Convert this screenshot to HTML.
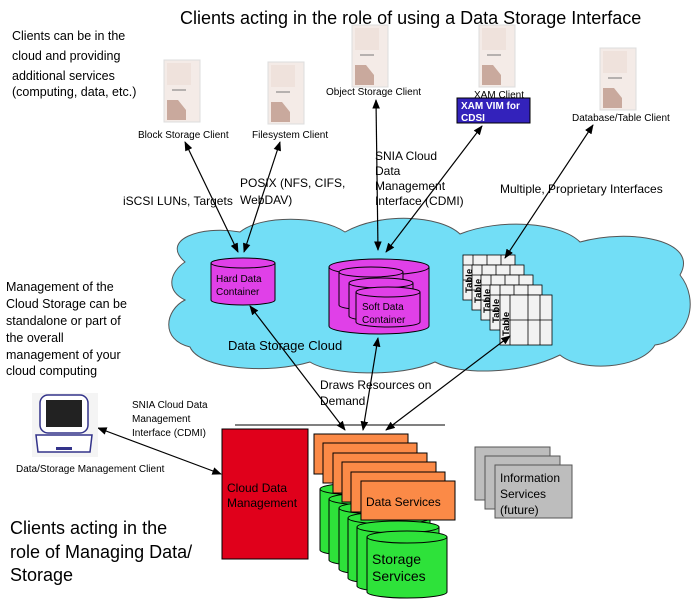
<!DOCTYPE html>
<html><head><meta charset="utf-8"><style>
body{margin:0;background:#fff}
svg{display:block;font-family:"Liberation Sans",Arial,sans-serif}
</style></head><body>
<svg width="700" height="609" viewBox="0 0 700 609" xmlns="http://www.w3.org/2000/svg">
<defs>
<marker id="a" viewBox="0 0 10 10" refX="9" refY="5" markerWidth="8" markerHeight="8" orient="auto-start-reverse"><path d="M0,1 L10,5 L0,9 Z" fill="#000"/></marker>
<g id="srv">
<rect x="0" y="0" width="36" height="62" fill="#f4ebe7" stroke="#ddd" stroke-width="1"/>
<rect x="3" y="3" width="24" height="22" fill="#efe2dc"/>
<line x1="8" y1="30" x2="22" y2="30" stroke="#777" stroke-width="1"/>
<path d="M3,40 L14,40 L22,50 L22,60 L3,60 Z" fill="#c9a99d"/>
</g>
</defs>

<text x="180" y="24" font-size="18">Clients acting in the role of using a Data Storage Interface</text>
<g font-size="12.5"><text x="12" y="40">Clients can be in the</text><text x="12" y="60">cloud and providing</text><text x="12" y="80">additional services</text><text x="12" y="96">(computing, data, etc.)</text></g>

<use href="#srv" x="164" y="60"/><use href="#srv" x="268" y="62"/><use href="#srv" x="352" y="25"/><use href="#srv" x="479" y="25"/><use href="#srv" x="600" y="48"/>
<g font-size="10">
<text x="138" y="138">Block Storage Client</text>
<text x="252" y="138">Filesystem Client</text>
<text x="326" y="95">Object Storage Client</text>
<text x="474" y="98">XAM Client</text>
<text x="572" y="121">Database/Table Client</text>
</g>
<rect x="457" y="98" width="73" height="25" fill="#3322bb" stroke="#000"/>
<g font-size="10" fill="#fff" font-weight="bold"><text x="461" y="109">XAM VIM for</text><text x="461" y="121">CDSI</text></g>

<path d="M185,262 C160,240 200,225 240,232 C260,215 320,215 345,232 C380,212 440,215 460,234 C500,218 560,222 580,242 C630,228 700,240 680,275 C700,300 690,340 655,345 C640,370 580,372 560,355 C520,375 460,375 435,362 C400,378 330,375 310,362 C270,374 200,370 190,347 C160,340 165,310 185,300 C165,290 170,272 185,262 Z" fill="#72def6" stroke="#555" stroke-width="1"/>

<g font-size="12">
<text x="123" y="205">iSCSI LUNs, Targets</text>
<text x="240" y="187">POSIX (NFS, CIFS,</text><text x="240" y="204">WebDAV)</text>
<text x="375" y="160">SNIA Cloud</text><text x="375" y="175">Data</text><text x="375" y="190">Management</text><text x="375" y="205">Interface (CDMI)</text>
<text x="500" y="193">Multiple, Proprietary Interfaces</text>
<text x="228" y="350" font-size="13">Data Storage Cloud</text>
<text x="320" y="389">Draws Resources on</text><text x="320" y="405">Demand</text>
</g>

<path d="M211,263 V300 A32,5 0 0 0 275,300 V263" fill="#e040e8" stroke="#000"/>
<ellipse cx="243" cy="263" rx="32" ry="5" fill="#e040e8" stroke="#000"/>
<text x="216" y="282" font-size="10">Hard Data</text><text x="216" y="295" font-size="10">Container</text>
<path d="M329,267 V326 A50,8 0 0 0 429,326 V267" fill="#e040e8" stroke="#000"/>
<ellipse cx="379" cy="267" rx="50" ry="8" fill="#e040e8" stroke="#000"/>
<g fill="#e040e8" stroke="#000">
<path d="M339,272 V305 A32,5 0 0 0 403,305 V272"/><ellipse cx="371" cy="272" rx="32" ry="5"/>
<path d="M349,283 V316 A32,5 0 0 0 413,316 V283"/><ellipse cx="381" cy="283" rx="32" ry="5"/>
<path d="M356,292 V322 A32,5 0 0 0 420,322 V292"/><ellipse cx="388" cy="292" rx="32" ry="5"/>
</g>
<text x="362" y="310" font-size="10">Soft Data</text><text x="362" y="323" font-size="10">Container</text>
<g stroke="#000" fill="#f2f2f2" stroke-width="0.8">
<g transform="translate(463,255)"><rect width="52" height="45"/><path d="M10,0V45M24,0V45M38,0V45M0,10H52M0,25H52"/></g>
<g transform="translate(472,265)"><rect width="52" height="45"/><path d="M10,0V45M24,0V45M38,0V45M0,10H52M0,25H52"/></g>
<g transform="translate(481,275)"><rect width="52" height="45"/><path d="M10,0V45M24,0V45M38,0V45M0,10H52M0,25H52"/></g>
<g transform="translate(490,285)"><rect width="52" height="45"/><path d="M10,0V45M24,0V45M38,0V45M0,10H52M0,25H52"/></g>
<g transform="translate(500,295)"><rect width="52" height="50"/><path d="M10,0V50M28,0V50M40,0V50M0,25H52"/></g>
</g>
<g font-size="9.5" font-weight="bold" fill="#000">
<text transform="translate(472,293) rotate(-90)">Table</text>
<text transform="translate(481,303) rotate(-90)">Table</text>
<text transform="translate(490,313) rotate(-90)">Table</text>
<text transform="translate(499,323) rotate(-90)">Table</text>
<text transform="translate(509,336) rotate(-90)">Table</text>
</g>

<g stroke="#000" stroke-width="1.2" fill="none" marker-start="url(#a)" marker-end="url(#a)">
<line x1="185" y1="142" x2="238" y2="252"/>
<line x1="280" y1="142" x2="244" y2="252"/>
<line x1="376" y1="100" x2="378" y2="250"/>
<line x1="482" y1="126" x2="386" y2="252"/>
<line x1="593" y1="125" x2="505" y2="258"/>
<line x1="250" y1="306" x2="345" y2="430"/>
<line x1="378" y1="338" x2="363" y2="430"/>
<line x1="510" y1="336" x2="386" y2="430"/>
<line x1="98" y1="428" x2="221" y2="474"/>
</g>
<line x1="235" y1="425" x2="445" y2="425" stroke="#000"/>

<g font-size="12.5">
<text x="6" y="291">Management of the</text><text x="6" y="308">Cloud Storage can be</text><text x="6" y="325">standalone or part of</text><text x="6" y="342">the overall</text><text x="6" y="359">management of your</text><text x="6" y="375">cloud computing</text>
</g>
<rect x="32" y="393" width="66" height="64" fill="#f4f4f4"/>
<rect x="40" y="395" width="48" height="38" rx="8" fill="#fff" stroke="#33338a" stroke-width="1.5"/>
<rect x="46" y="400" width="36" height="27" fill="#222"/>
<path d="M36,435 H92 L90,452 H38 Z" fill="#fff" stroke="#33338a" stroke-width="1.5"/>
<rect x="56" y="447" width="16" height="3" fill="#33338a"/>
<text x="16" y="472" font-size="10">Data/Storage Management Client</text>
<g font-size="10"><text x="132" y="408">SNIA Cloud Data</text><text x="132" y="422">Management</text><text x="132" y="436">Interface (CDMI)</text></g>

<rect x="222" y="429" width="86" height="130" fill="#e0001b" stroke="#000"/>
<text x="227" y="492" font-size="12">Cloud Data</text><text x="227" y="507" font-size="12">Management</text>

<g fill="#2ee23a" stroke="#000">
<path d="M320,489 V550 A41,6 0 0 0 402,550 V489"/><ellipse cx="361" cy="489" rx="41" ry="6"/>
<path d="M329,499 V560 A41,6 0 0 0 411,560 V499"/><ellipse cx="370" cy="499" rx="41" ry="6"/>
<path d="M339,508 V569 A41,6 0 0 0 421,569 V508"/><ellipse cx="380" cy="508" rx="41" ry="6"/>
<path d="M348,518 V578 A41,6 0 0 0 430,578 V518"/><ellipse cx="389" cy="518" rx="41" ry="6"/>
<path d="M357,527 V586 A41,6 0 0 0 439,586 V527"/><ellipse cx="398" cy="527" rx="41" ry="6"/>
<path d="M367,537 V592 A40,6 0 0 0 447,592 V537"/><ellipse cx="407" cy="537" rx="40" ry="6"/>
</g>
<text x="372" y="564" font-size="14">Storage</text><text x="372" y="581" font-size="14">Services</text>
<g fill="#fb8a47" stroke="#000">
<rect x="314" y="434" width="94" height="40"/>
<rect x="323" y="443" width="94" height="40"/>
<rect x="333" y="453" width="94" height="40"/>
<rect x="342" y="462" width="94" height="40"/>
<rect x="351" y="472" width="94" height="40"/>
<rect x="361" y="481" width="94" height="39"/>
</g>
<text x="366" y="506" font-size="12">Data Services</text>
<g fill="#bdbdbd" stroke="#555">
<rect x="475" y="447" width="75" height="53"/>
<rect x="485" y="456" width="75" height="53"/>
<rect x="495" y="465" width="77" height="53"/>
</g>
<g font-size="12"><text x="500" y="482">Information</text><text x="500" y="498">Services</text><text x="500" y="514">(future)</text></g>

<g font-size="18"><text x="10" y="534">Clients acting in the</text><text x="10" y="558">role of Managing Data/</text><text x="10" y="581">Storage</text></g>
</svg>
</body></html>
